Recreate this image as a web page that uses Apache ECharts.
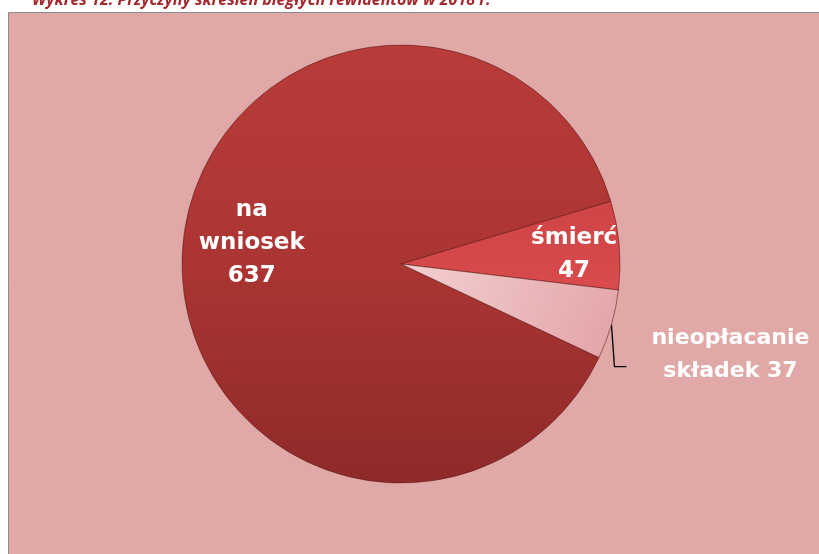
<!DOCTYPE html>
<html>
<head>
<meta charset="utf-8">
<script src="https://cdn.jsdelivr.net/npm/echarts@6/dist/echarts.min.js"></script>
<style>
html,body{margin:0;padding:0;background:#fff;}
#c{width:819px;height:554px;}
</style>
</head>
<body>
<div id="c"></div>
<script>
var titleText = 'Wykres 12. Przyczyny skreśleń biegłych rewidentów w 2018 r.';
var categories = ['na\nwniosek', 'śmierć', 'nieopłacanie\nskładek'];
var values = [637, 47, 37];

var sliceColors = [
  {type:'linear',x:0,y:0,x2:0,y2:1,colorStops:[{offset:0,color:'#b83c39'},{offset:0.5,color:'#ab3533'},{offset:1,color:'#8e2a29'}]},
  {type:'linear',x:0,y:0,x2:0,y2:1,colorStops:[{offset:0,color:'#cf4446'},{offset:1,color:'#d94b4d'}]},
  {type:'linear',x:0,y:0,x2:1,y2:1,colorStops:[{offset:0,color:'#f4d0d2'},{offset:1,color:'#e2a3a6'}]}
];
var labelOffsets = [[-37,-12],[61,0],[0,0]];

var chart = echarts.init(document.getElementById('c'), null, {renderer:'canvas'});
var data = values.map(function(v,i){
  return {
    name: categories[i],
    value: v,
    itemStyle: {color: sliceColors[i], borderColor: 'rgba(90,20,20,0.55)', borderWidth: 1},
    label: {
      position: i === 2 ? 'outside' : 'inside',
      offset: labelOffsets[i],
      align: 'center',
      overflow: 'none',
      fontSize: i === 2 ? 22 : 23
    },
    labelLine: {show: i === 2}
  };
});

chart.setOption({
  animation: false,
  title: {
    text: titleText,
    left: 27,
    top: -13,
    textStyle: {fontFamily: 'Open Sans', fontStyle: 'italic', fontWeight: 'bold', fontSize: 16, color: '#a3272b'}
  },
  graphic: [{
    type: 'rect', z: -10,
    shape: {x: 8.5, y: 12.5, width: 830, height: 560},
    style: {fill: '#e0a9a8', stroke: '#8c8c8c', lineWidth: 1}
  }],
  series: [{
    type: 'pie',
    center: [401, 264],
    radius: [0, 219],
    startAngle: 334.7,
    clockwise: true,
    data: data,
    label: {
      show: true,
      color: '#ffffff',
      fontFamily: 'DejaVu Sans',
      fontWeight: 'bold',
      fontSize: 23,
      lineHeight: 33,
      overflow: 'none',
      formatter: function(p){ return p.name + (p.dataIndex === 2 ? ' ' : '\n') + p.value; }
    },
    labelLine: {lineStyle: {color: '#000', width: 1.3}, length: 20, length2: 12},
    labelLayout: function(params){
      if (params.dataIndex !== 2) return {};
      var pts = params.labelLinePoints;
      if (!pts) return {};
      var p0 = pts[0];
      return {
        x: p0[0] + 119,
        y: p0[1] + 30,
        align: 'center',
        verticalAlign: 'middle',
        width: 220,
        labelLinePoints: [p0, [p0[0] + 3, p0[1] + 42], [p0[0] + 15, p0[1] + 42]]
      };
    }
  }]
});
</script>
</body>
</html>
